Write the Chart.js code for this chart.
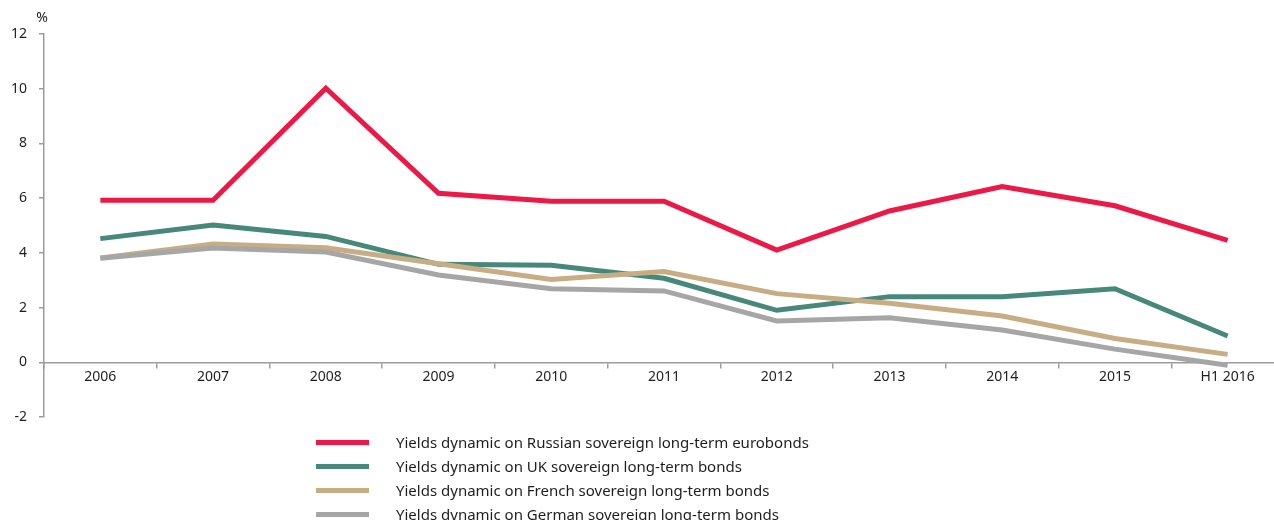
<!DOCTYPE html>
<html>
<head>
<meta charset="utf-8">
<script src="https://cdn.jsdelivr.net/npm/chart.js@4"></script>
<style>
  html, body { margin: 0; padding: 0; background: #fff; overflow: hidden; }
  #wrap { position: relative; width: 1290px; height: 520px; }
  #legend { position: absolute; left: 316px; top: 430px; font-family: "Noto Sans", sans-serif; font-size: 15px; color: #1e1e1e; }
  .row { display: flex; align-items: center; height: 24px; }
  .swatch { width: 53px; height: 5px; margin-right: 27px; }
</style>
</head>
<body>
<div id="wrap">
  <canvas id="yieldsChart" width="1290" height="520"></canvas>
  <div id="legend"></div>
</div>
<script>
// data
const years = ['2006', '2007', '2008', '2009', '2010', '2011', '2012', '2013', '2014', '2015', 'H1 2016'];
const russia = [5.92, 5.92, 10.02, 6.18, 5.89, 5.89, 4.1, 5.53, 6.42, 5.72, 4.46];
const uk = [4.52, 5.02, 4.6, 3.58, 3.55, 3.07, 1.9, 2.4, 2.4, 2.69, 0.96];
const france = [3.81, 4.32, 4.19, 3.6, 3.03, 3.32, 2.51, 2.16, 1.69, 0.87, 0.29];
const germany = [3.8, 4.18, 4.03, 3.19, 2.69, 2.61, 1.51, 1.63, 1.18, 0.48, -0.11];
const yTicks = [-2, 0, 2, 4, 6, 8, 10, 12];

const seriesNames = [
    'Yields dynamic on Russian sovereign long-term eurobonds',
    'Yields dynamic on UK sovereign long-term bonds',
    'Yields dynamic on French sovereign long-term bonds',
    'Yields dynamic on German sovereign long-term bonds'
];
const seriesColors = ['#ec1845', '#46887a', '#c8ad84', '#a6a6a6'];
const seriesData = [russia, uk, france, germany];

const axisColor = '#9c9c9c';
const font = { family: '"Noto Sans", sans-serif', size: 14 };

// little "%" above the y axis
const percentLabel = {
    id: 'percentLabel',
    afterDraw(chart) {
        const ctx = chart.ctx;
        ctx.save();
        ctx.fillStyle = '#1e1e1e';
        ctx.font = '14px "Noto Sans", sans-serif';
        ctx.textAlign = 'center';
        ctx.textBaseline = 'middle';
        ctx.fillText('%', chart.chartArea.left - 2, 18);
        ctx.restore();
    }
};

const chart = new Chart(document.getElementById('yieldsChart'), {
    type: 'line',
    data: {
        labels: years,
        datasets: seriesData.map((d, i) => ({
            label: seriesNames[i],
            data: d,
            borderColor: seriesColors[i],
            backgroundColor: seriesColors[i],
            borderWidth: 5,
            pointRadius: 0,
            tension: 0,
            fill: false
        })).reverse()
    },
    options: {
        responsive: false,
        animation: false,
        devicePixelRatio: 1,
        layout: { padding: { top: 34, bottom: 103, right: 6, left: 0 } },
        plugins: { legend: { display: false }, tooltip: { enabled: false } },
        scales: {
            x: {
                position: { y: 0 },
                offset: true,
                grid: {
                    offset: true,
                    drawOnChartArea: false,
                    drawTicks: true,
                    tickLength: 5,
                    color: axisColor,
                    lineWidth: 1.5
                },
                border: { color: axisColor, width: 1.5 },
                ticks: { color: '#1e1e1e', font: font, padding: 1, maxRotation: 0, autoSkip: false }
            },
            y: {
                min: -2,
                max: 12,
                afterFit: s => { s.width = 44; },
                afterBuildTicks: s => { s.ticks = yTicks.map(v => ({ value: v })); },
                grid: {
                    drawOnChartArea: false,
                    drawTicks: true,
                    tickLength: 5,
                    color: axisColor,
                    lineWidth: 1.5
                },
                border: { color: axisColor, width: 1.5 },
                ticks: { color: '#1e1e1e', font: font, padding: 12 }
            }
        }
    },
    plugins: [percentLabel]
});

// html legend, one row per series
const legend = document.getElementById('legend');
seriesNames.forEach((name, i) => {
    const row = document.createElement('div');
    row.className = 'row';
    row.innerHTML = '<span class="swatch" style="background:' + seriesColors[i] + '"></span><span>' + name + '</span>';
    legend.appendChild(row);
});
</script>
</body>
</html>
